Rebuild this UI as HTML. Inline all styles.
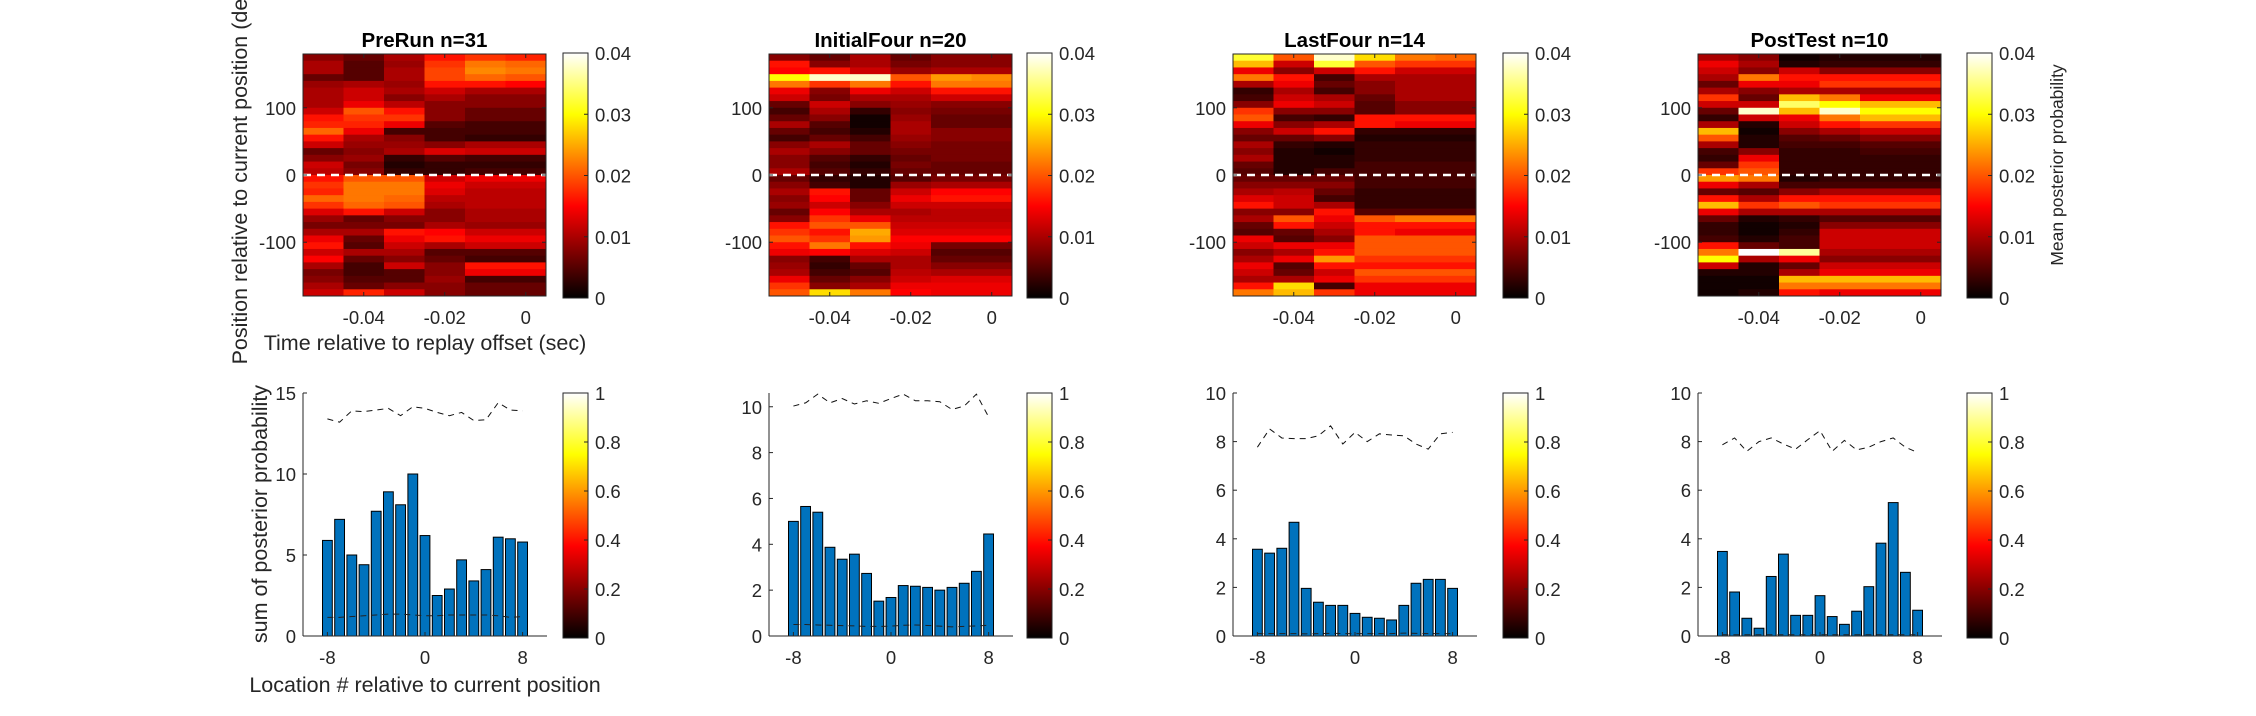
<!DOCTYPE html>
<html><head><meta charset="utf-8"><style>
html,body{margin:0;padding:0;background:#fff;}
svg{display:block;font-family:"Liberation Sans",Arial,sans-serif;}
</style></head><body>
<svg id="fig" width="2256" height="716" viewBox="0 0 2256 716" xmlns="http://www.w3.org/2000/svg">
<defs>
<linearGradient id="hot" x1="0" y1="1" x2="0" y2="0">
<stop offset="0" stop-color="#000"/><stop offset="0.375" stop-color="#f00"/><stop offset="0.75" stop-color="#ff0"/><stop offset="1" stop-color="#fff"/>
</linearGradient>
</defs>
</svg>
<script>
// ---- data ----
const titles = ["PreRun n=31","InitialFour n=20","LastFour n=14","PostTest n=10"];
const timeBins = [-0.05,-0.04,-0.03,-0.02,-0.01,0.0];
const heatTicksY = [-100,0,100];
const heatTicksX = [-0.04,-0.02,0];
const heatTickLabelsX = ["-0.04","-0.02","0"];
const cbTopTicks = [0,0.01,0.02,0.03,0.04];
const cbTopLabels = ["0","0.01","0.02","0.03","0.04"];
const cbBotTicks = [0,0.2,0.4,0.6,0.8,1];
const cbBotLabels = ["0","0.2","0.4","0.6","0.8","1"];
const locations = [-8,-7,-6,-5,-4,-3,-2,-1,0,1,2,3,4,5,6,7,8];
const barTicksX = [-8,0,8];
// heatmap values x1000, rows from +180 (top) to -180, 36 rows per time bin
const p1c1=[8,10,10,6,9,10,10,10,12,16,17,21,16,12,6,8,12,11,16,18,17,21,18,13,9,7,10,14,16,12,15,10,7,8,10,12];
const p1c2=[6,5,5,5,10,12,12,14,20,18,17,14,10,9,8,9,7,8,20,22,22,22,21,16,6,7,10,6,5,10,6,4,4,5,6,17];
const p1c3=[10,9,10,10,9,10,8,11,16,18,14,4,8,9,10,3,2,3,20,22,22,21,20,12,8,7,16,14,12,10,8,12,5,5,8,12];
const p1c4=[16,18,19,19,16,12,10,8,8,8,5,4,4,8,13,5,3,3,12,14,13,11,10,8,8,10,15,16,10,5,6,8,8,9,8,8];
const p1c5=[18,22,23,21,16,10,8,8,6,6,4,4,3,10,12,4,3,4,14,12,11,11,11,10,10,9,12,14,12,5,4,16,14,4,6,6];
const p1c6=[17,21,22,20,15,10,8,8,6,6,4,4,3,10,12,4,3,4,14,12,11,11,11,10,10,9,12,14,12,5,4,16,14,4,6,6];
const p2c1=[8,16,15,30,22,14,12,6,4,6,10,6,4,8,10,8,8,10,6,8,10,8,9,6,8,16,18,20,16,14,8,9,10,14,18,20];
const p2c2=[6,8,16,38,18,8,7,12,10,8,5,4,6,10,8,5,4,5,3,4,16,15,12,15,18,20,16,18,22,15,4,3,4,6,8,28];
const p2c3=[10,10,12,38,22,14,10,8,3,1,1,2,4,6,6,3,2,3,2,2,6,6,8,10,14,20,25,24,16,13,10,6,5,8,10,22];
const p2c4=[6,7,9,20,16,12,10,9,8,9,10,10,9,8,7,6,7,6,5,9,12,14,12,10,11,12,13,15,14,12,10,10,11,12,14,15];
const p2c5=[8,8,10,24,22,16,12,8,7,6,6,8,8,7,7,7,6,6,7,10,15,16,12,11,11,12,13,15,7,5,6,8,10,13,14,14];
const p2c6=[8,8,10,23,22,16,12,8,7,6,6,8,8,7,7,7,6,6,7,10,15,16,12,11,11,12,13,15,7,5,6,8,10,13,14,14];
const p3c1=[32,26,14,22,10,3,4,8,18,20,14,8,6,10,8,10,6,5,6,8,10,13,16,8,10,6,5,14,12,8,10,14,12,10,16,22];
const p3c2=[20,12,8,16,14,10,12,14,8,4,8,12,6,3,2,2,2,2,6,8,11,12,12,8,20,16,6,5,14,10,14,5,6,10,28,26];
const p3c3=[38,32,12,4,6,4,10,12,8,3,10,16,8,2,1,2,2,4,6,8,6,4,10,16,14,12,10,8,14,16,24,16,12,14,4,18];
const p3c4=[28,20,16,10,8,8,6,5,5,16,16,3,2,3,3,3,4,4,4,4,3,3,3,5,20,16,16,20,20,20,18,16,20,18,14,14];
const p3c5=[22,18,12,10,10,10,10,8,8,16,14,3,2,3,3,3,4,4,4,4,3,3,3,5,22,16,14,20,20,20,18,16,20,18,14,14];
const p3c6=[21,18,12,10,10,10,10,8,8,16,14,3,2,3,3,3,4,4,4,4,3,3,3,5,22,16,14,20,20,20,18,16,20,18,14,14];
const p4c1=[10,14,12,10,6,10,18,12,6,3,10,26,20,10,4,3,6,18,24,14,6,16,26,14,6,3,3,4,16,22,30,12,2,1,1,1];
const p4c2=[8,10,8,22,14,8,6,12,38,12,2,1,2,2,8,14,18,20,22,10,5,10,18,10,2,1,1,2,6,40,10,2,2,1,1,2];
const p4c3=[1,2,12,16,14,10,26,34,26,14,12,8,5,4,3,3,3,3,2,4,8,16,20,10,3,2,3,4,4,36,14,6,10,26,22,16];
const p4c4=[2,3,8,16,18,10,22,30,38,22,16,10,6,4,3,3,3,3,3,4,10,16,18,10,5,8,12,12,12,10,8,12,14,26,22,14];
const p4c5=[2,3,8,16,18,10,14,26,30,26,18,12,8,5,4,3,3,3,3,4,10,16,18,10,5,8,12,12,12,10,8,12,14,26,22,14];
const p4c6=[2,3,8,16,18,10,14,26,30,26,18,12,8,5,4,3,3,3,3,4,10,16,18,10,5,8,12,12,12,10,8,12,14,26,22,14];
// bar / line data
const p1Bars=[5.9,7.2,5.0,4.4,7.7,8.9,8.1,10.0,6.2,2.5,2.9,4.7,3.4,4.1,6.1,6.0,5.8];
const p1Upper=[13.4,13.2,13.9,13.85,13.95,14.05,13.6,14.15,14.05,13.8,13.6,13.8,13.3,13.35,14.4,13.95,13.9];
const p1Lower=[1.15,1.15,1.2,1.25,1.3,1.35,1.35,1.3,1.25,1.25,1.3,1.3,1.3,1.3,1.25,1.15,1.2];
const p2Bars=[5.0,5.65,5.4,3.87,3.35,3.57,2.73,1.52,1.68,2.2,2.17,2.12,2.0,2.12,2.3,2.82,4.45];
const p2Upper=[10.03,10.17,10.55,10.17,10.36,10.12,10.26,10.15,10.36,10.55,10.26,10.26,10.22,9.88,10.03,10.55,9.56];
const p2Lower=[0.5,0.5,0.48,0.47,0.45,0.44,0.42,0.42,0.43,0.47,0.48,0.46,0.43,0.4,0.42,0.44,0.47];
const p3Bars=[3.57,3.41,3.61,4.68,1.96,1.39,1.26,1.26,0.93,0.77,0.73,0.66,1.26,2.17,2.33,2.33,1.96];
const p3Upper=[7.77,8.52,8.15,8.12,8.12,8.24,8.65,7.9,8.38,8.0,8.32,8.27,8.24,7.9,7.69,8.32,8.38];
const p3Lower=[0.1,0.1,0.1,0.1,0.09,0.1,0.11,0.1,0.1,0.1,0.1,0.1,0.12,0.11,0.1,0.1,0.1];
const p4Bars=[3.48,1.81,0.73,0.32,2.45,3.37,0.85,0.85,1.66,0.8,0.48,1.02,2.03,3.82,5.49,2.62,1.06];
const p4Upper=[7.87,8.15,7.6,8.0,8.15,7.9,7.69,8.08,8.45,7.6,8.05,7.66,7.77,8.0,8.15,7.77,7.55];
const p4Lower=[0.05,0.05,0.05,0.05,0.05,0.05,0.05,0.05,0.05,0.05,0.05,0.05,0.05,0.05,0.05,0.05,0.05];
const barYMax=[15,10.6,10,10];
const barYTicks=[[0,5,10,15],[0,2,4,6,8,10],[0,2,4,6,8,10],[0,2,4,6,8,10]];

const heatData=[[p1c1,p1c2,p1c3,p1c4,p1c5,p1c6],[p2c1,p2c2,p2c3,p2c4,p2c5,p2c6],[p3c1,p3c2,p3c3,p3c4,p3c5,p3c6],[p4c1,p4c2,p4c3,p4c4,p4c5,p4c6]];
const barsData=[p1Bars,p2Bars,p3Bars,p4Bars];
const upperData=[p1Upper,p2Upper,p3Upper,p4Upper];
const lowerData=[p1Lower,p2Lower,p3Lower,p4Lower];

// ---- layout ----
const axL=[303,769,1233,1698], axW=243;
const cbL=[563,1027,1503,1967], cbW=25;
const hT=54,hB=296, bT=393,bB=636;
const FS=18.5;
const svg=document.getElementById('fig');
const NS='http://www.w3.org/2000/svg';
const AX='#262626';
function mk(tag,attrs,parent){const e=document.createElementNS(NS,tag);for(const k in attrs)e.setAttribute(k,attrs[k]);(parent||svg).appendChild(e);return e;}
function txt(x,y,s,attrs,parent){const e=mk('text',Object.assign({x:x,y:y,fill:AX,'font-size':FS},attrs),parent);e.textContent=s;return e;}
function hot(v){let t=Math.max(0,Math.min(1,v/40));const r=Math.min(1,t/0.375),g=Math.max(0,Math.min(1,(t-0.375)/0.375)),b=Math.max(0,Math.min(1,(t-0.75)/0.25));return `rgb(${Math.round(r*255)},${Math.round(g*255)},${Math.round(b*255)})`;}

for(let p=0;p<4;p++){
  const L=axL[p];
  const xs=t=>L+(t+0.055)/0.06*axW;
  const ys=d=>hT+(180-d)/360*(hB-hT);
  const g=mk('g',{});
  
  
  const cols=heatData[p];
  for(let c=0;c<timeBins.length;c++){
    const x0=xs(timeBins[c]-0.005),x1=xs(timeBins[c]+0.005);
    const col=cols[c];
    for(let r=0;r<col.length;r++){
      const y0=ys(180-r*10),y1=ys(180-(r+1)*10);
      const rc=mk('rect',{x:x0,y:y0,width:x1-x0+0.5,height:y1-y0+0.5,fill:hot(col[r])},g);
      
      
    }
  }
  const zl=mk('line',{x1:L,x2:L+axW,y1:ys(0),y2:ys(0),stroke:'#fff','stroke-width':2.5,'stroke-dasharray':'8 6'});
  
  
  const box=mk('rect',{x:L,y:hT,width:axW,height:hB-hT,fill:'none',stroke:AX,'stroke-width':1});
  
  
  heatTicksY.forEach(v=>{const y=ys(v);mk('line',{x1:L,x2:L+4,y1:y,y2:y,stroke:AX});mk('line',{x1:L+axW-4,x2:L+axW,y1:y,y2:y,stroke:AX});
    const t=txt(L-7,y+7,String(v),{'text-anchor':'end'});});
  heatTicksX.forEach((v,i)=>{const x=xs(v);mk('line',{x1:x,x2:x,y1:hB,y2:hB-4,stroke:AX});mk('line',{x1:x,x2:x,y1:hT,y2:hT+4,stroke:AX});
    const t=txt(x,324,heatTickLabelsX[i],{'text-anchor':'middle'});});
  const tt=txt(L+axW/2,47,titles[p],{'text-anchor':'middle','font-weight':'bold','font-size':20.5,fill:'#000'});
  
  
  // top colorbar
  const C=cbL[p];
  const cb=mk('rect',{x:C,y:hT-1,width:cbW,height:hB-hT+3,fill:'url(#hot)',stroke:AX});
  
  
  cbTopTicks.forEach((v,i)=>{const y=(hB+2)-(v/0.04)*(hB-hT+3);mk('line',{x1:C+cbW-4,x2:C+cbW,y1:y,y2:y,stroke:AX});
    const t=txt(C+cbW+7,y+7,cbTopLabels[i],{});});
  // bottom bar chart
  const ymax=barYMax[p];
  const bx=v=>L+(v+10)/20*(axW+1);
  const by=v=>bB-v/ymax*(bB-bT);
  const bg=mk('g',{});
  
  
  barsData[p].forEach((v,i)=>{const x=bx(locations[i]);
    const b=mk('rect',{x:x-4.9,y:by(v),width:9.8,height:bB-by(v),fill:'#0072BD',stroke:'#000','stroke-width':1},bg);
    
    });
  const up=mk('polyline',{points:upperData[p].map((v,i)=>bx(locations[i])+','+by(v)).join(' '),fill:'none',stroke:'#111','stroke-width':1,'stroke-dasharray':'6 5'});
  
  
  const lo=mk('polyline',{points:lowerData[p].map((v,i)=>bx(locations[i])+','+by(v)).join(' '),fill:'none',stroke:'#222','stroke-width':1,'stroke-dasharray':'6 5'});
  
  
  mk('line',{x1:L,x2:L,y1:bT,y2:bB,stroke:AX});
  mk('line',{x1:L,x2:L+axW+1,y1:bB,y2:bB,stroke:AX});
  barYTicks[p].forEach(v=>{const y=by(v);mk('line',{x1:L,x2:L+4,y1:y,y2:y,stroke:AX});
    const t=txt(L-7,y+7,String(v),{'text-anchor':'end'});});
  barTicksX.forEach(v=>{const x=bx(v);mk('line',{x1:x,x2:x,y1:bB,y2:bB-4,stroke:AX});
    const t=txt(x,664,String(v),{'text-anchor':'middle'});});
  const cb2=mk('rect',{x:C,y:bT,width:cbW,height:bB-bT+2,fill:'url(#hot)',stroke:AX});
  
  
  cbBotTicks.forEach((v,i)=>{const y=(bB+2)-v*(bB-bT+2);mk('line',{x1:C+cbW-4,x2:C+cbW,y1:y,y2:y,stroke:AX});
    const t=txt(C+cbW+7,y+7,cbBotLabels[i],{});});
}
const l1=txt(0,0,'Position relative to current position (deg)',{'text-anchor':'middle','font-size':21.5,transform:'translate(247,172) rotate(-90)'});


const l2=txt(425,350,'Time relative to replay offset (sec)',{'text-anchor':'middle','font-size':21.5});


const l3=txt(0,0,'sum of posterior probability',{'text-anchor':'middle','font-size':21.5,transform:'translate(267,514) rotate(-90)'});


const l4=txt(425,692,'Location # relative to current position',{'text-anchor':'middle','font-size':21.5});


const l5=txt(0,0,'Mean posterior probability',{'text-anchor':'middle','font-size':17.5,transform:'translate(2063,165) rotate(-90)'});


</script>
</body></html>
